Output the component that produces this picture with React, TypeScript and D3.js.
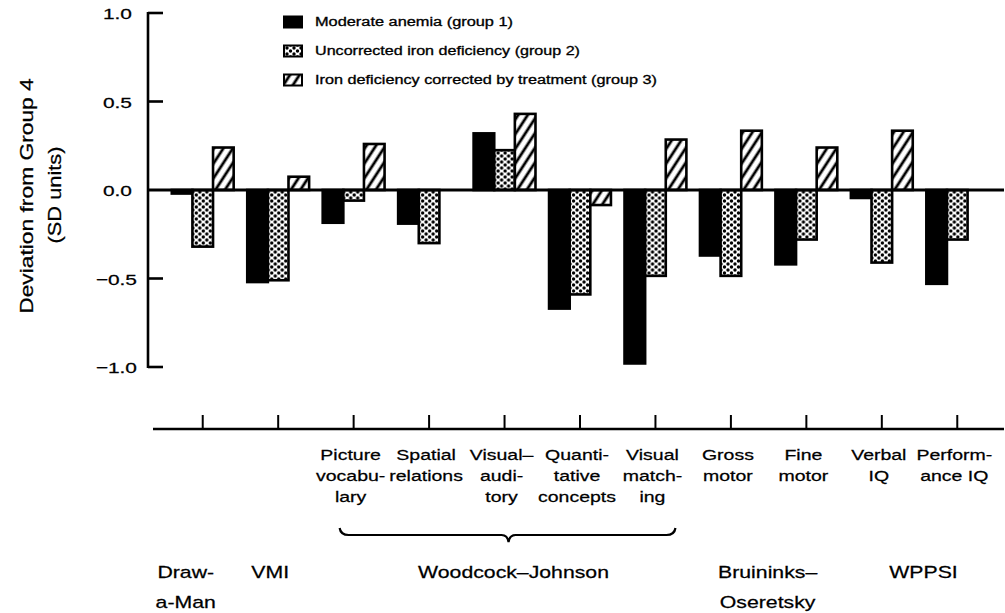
import React from "react";
import * as d3 from "d3";

const categories = [
  "Draw-a-Man",
  "VMI",
  "Picture vocabulary",
  "Spatial relations",
  "Visual-auditory",
  "Quantitative concepts",
  "Visual matching",
  "Gross motor",
  "Fine motor",
  "Verbal IQ",
  "Performance IQ",
];

const anemia = [-0.02, -0.52, -0.185, -0.19, 0.32, -0.67, -0.98, -0.37, -0.42, -0.045, -0.53];
const uncorrected = [-0.32, -0.51, -0.06, -0.3, 0.225, -0.59, -0.485, -0.485, -0.28, -0.41, -0.28];
const treated = [0.24, 0.075, 0.26, 0, 0.43, -0.085, 0.285, 0.335, 0.24, 0.335, 0];

const seriesNames = [
  "Moderate anemia (group 1)",
  "Uncorrected iron deficiency (group 2)",
  "Iron deficiency corrected by treatment (group 3)",
];

const yTicks = [1.0, 0.5, 0.0, -0.5, -1.0];
const yTickLabels = ["1.0", "0.5", "0.0", "\u22120.5", "\u22121.0"];

const subLabels = [
  [],
  [],
  ["Picture", "vocabu-", "lary"],
  ["Spatial", "relations"],
  ["Visual\u2013", "audi-", "tory"],
  ["Quanti-", "tative", "concepts"],
  ["Visual", "match-", "ing"],
  ["Gross", "motor"],
  ["Fine", "motor"],
  ["Verbal", "IQ"],
  ["Perform-", "ance IQ"],
];

const testGroups = [
  { lines: ["Draw-", "a-Man"], from: 0, to: 0 },
  { lines: ["VMI"], from: 1, to: 1 },
  { lines: ["Woodcock\u2013Johnson"], from: 2, to: 6 },
  { lines: ["Bruininks\u2013", "Oseretsky"], from: 7, to: 8 },
  { lines: ["WPPSI"], from: 9, to: 10 },
];

const FONT = '"Liberation Sans", Arial, Helvetica, sans-serif';

function Txt({ x, y, size = 15, sx = 1.3, anchor = "middle", rot = 0, children, baseline = "auto" }: any) {
  return (
    <text
      transform={`translate(${x},${y}) rotate(${rot}) scale(${sx},1)`}
      textAnchor={anchor}
      fontSize={size}
      fontFamily={FONT}
      dominantBaseline={baseline}
      fill="#000"
      stroke="#000"
      strokeWidth={0.25}
    >
      {children}
    </text>
  );
}

export default function App() {
  const W = 1005;
  const H = 613;
  const y = d3.scaleLinear().domain([-1, 1]).range([367, 13]);
  const x0 = d3.scaleBand<string>().domain(categories).range([165, 995]).paddingInner(0.18).paddingOuter(0.09);
  const x1 = d3.scaleBand<number>().domain([0, 1, 2]).range([0, x0.bandwidth()]);
  const series = [anemia, uncorrected, treated];
  const fills = ["#000", "url(#dots)", "url(#hatch)"];
  const cx = (i: number) => (x0(categories[i]) as number) + x0.bandwidth() / 2;
  const axisX = 148;
  const zeroY = y(0);
  const bottomAxisY = 429;

  const groupDx = [-17, -8, 9, -1, 4];

  const braceL = cx(2) - 14;
  const braceR = cx(6) + 20;
  const braceM = (cx(2) + cx(6)) / 2 + 4;
  const braceY = 535;

  return (
    <svg width={W} height={H} style={{ position: "absolute", left: 0, top: 0, background: "#fff" }}>
      <defs>
        <pattern id="dots" patternUnits="userSpaceOnUse" width={7} height={6}>
          <rect width={7} height={6} fill="#fff" />
          {[
            [0, 0],
            [7, 0],
            [0, 6],
            [7, 6],
            [3.5, 3],
          ].map(([a, b], k) => (
            <circle key={k} cx={a} cy={b} r={1.7} fill="#000" />
          ))}
        </pattern>
        <pattern id="hatch" patternUnits="userSpaceOnUse" width={8} height={8} patternTransform="rotate(33)">
          <rect width={8} height={8} fill="#fff" />
          <line x1={4} y1={0} x2={4} y2={8} stroke="#000" strokeWidth={2.8} />
        </pattern>
      </defs>

      {/* bars */}
      {categories.map((c, i) => (
        <g key={c} transform={`translate(${x0(c)},0)`}>
          {series.map((s, k) => {
            const v = s[i];
            const top = y(Math.max(0, v));
            const h = Math.abs(y(v) - y(0));
            return (
              <rect
                key={k}
                x={x1(k)}
                y={top}
                width={x1.bandwidth()}
                height={h}
                fill={fills[k]}
                stroke="#000"
                strokeWidth={2.6}
              />
            );
          })}
        </g>
      ))}

      {/* zero line */}
      <line x1={axisX} x2={1004} y1={zeroY} y2={zeroY} stroke="#000" strokeWidth={3} />

      {/* y axis */}
      <line x1={axisX} x2={axisX} y1={y(1) - 1} y2={y(-1) + 1} stroke="#000" strokeWidth={2.6} />
      {yTicks.map((t, i) => (
        <g key={t}>
          {t !== 0 && <line x1={axisX} x2={axisX + 15} y1={y(t)} y2={y(t)} stroke="#000" strokeWidth={2.6} />}
          <Txt x={t < 0 ? 137 : 132} y={y(t) + 1} size={15.5} sx={1.35} anchor="end" baseline="central">
            {yTickLabels[i]}
          </Txt>
        </g>
      ))}

      {/* y title */}
      <Txt x={26} y={196} size={19} sx={1.2} rot={-90} baseline="central">
        Deviation from Group 4
      </Txt>
      <Txt x={54} y={195} size={19} sx={1.15} rot={-90} baseline="central">
        (SD units)
      </Txt>

      {/* legend */}
      {seriesNames.map((n, k) => {
        const ly = [22, 51, 80][k];
        const lens = [198, 265, 342][k];
        return (
          <g key={n}>
            <rect x={284} y={ly - 5.5} width={18} height={11} fill={fills[k]} stroke="#000" strokeWidth={2} />
            <text
              x={315}
              y={ly}
              dominantBaseline="central"
              fontSize={12}
              fontFamily={FONT}
              textLength={lens}
              lengthAdjust="spacingAndGlyphs"
              stroke="#000"
              strokeWidth={0.3}
            >
              {n}
            </text>
          </g>
        );
      })}

      {/* bottom axis */}
      <line x1={153} x2={1004} y1={bottomAxisY} y2={bottomAxisY} stroke="#000" strokeWidth={2.6} />
      {categories.map((c, i) => (
        <line key={c} x1={cx(i)} x2={cx(i)} y1={bottomAxisY - 14} y2={bottomAxisY} stroke="#000" strokeWidth={2} />
      ))}

      {/* sub labels */}
      {subLabels.map((lines, i) =>
        lines.map((l, j) => (
          <Txt key={`${i}-${j}`} x={cx(i) - 3} y={460 + j * 21} size={15} sx={1.3}>
            {l}
          </Txt>
        ))
      )}

      {/* brace */}
      <path
        d={`M${braceL},${braceY - 7} Q${braceL + 1},${braceY} ${braceL + 9},${braceY} L${braceM - 7},${braceY} Q${braceM - 1},${braceY} ${braceM},${braceY + 7} Q${braceM + 1},${braceY} ${braceM + 7},${braceY} L${braceR - 9},${braceY} Q${braceR - 1},${braceY} ${braceR},${braceY - 7}`}
        fill="none"
        stroke="#000"
        strokeWidth={2.2}
      />

      {/* test group labels */}
      {testGroups.map((g, gi) => {
        const center = (cx(g.from) + cx(g.to)) / 2 + groupDx[gi];
        return g.lines.map((l, j) => (
          <Txt key={`${gi}-${j}`} x={center} y={578 + j * 30} size={17} sx={1.25}>
            {l}
          </Txt>
        ));
      })}
    </svg>
  );
}
